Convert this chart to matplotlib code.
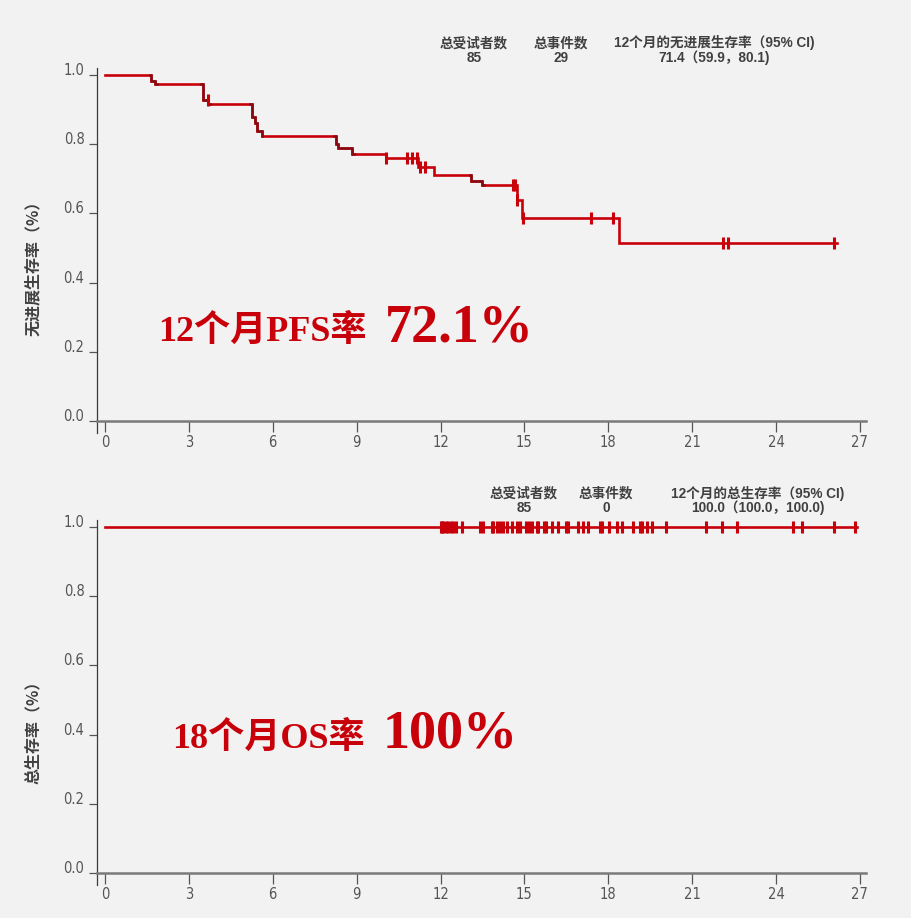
import matplotlib
matplotlib.use("Agg")
import matplotlib.pyplot as plt
import numpy as np

# PFS curve (step levels)
pfs_t = [0, 1.65, 1.8, 3.5, 3.7, 5.25, 5.35, 5.45, 5.6, 8.25, 8.35, 8.85,
         10.05, 11.2, 11.75, 13.1, 13.5, 14.72, 14.9, 18.38]
pfs_s = [1.0, 0.984, 0.974, 0.928, 0.916, 0.88, 0.861, 0.838, 0.824, 0.80,
         0.789, 0.772, 0.760, 0.734, 0.711, 0.694, 0.682, 0.639, 0.587, 0.514]
pfs_end = 26.17
pfs_cens = [3.68, 10.05, 10.8, 10.98, 11.15, 11.27, 11.45, 14.6, 14.68, 14.75,
            14.95, 17.38, 18.16, 22.1, 22.28, 26.07]
# stretches of the curve drawn darker in the picture
dark_ranges = [(1.6, 1.85), (3.45, 3.75), (5.2, 5.62), (8.2, 8.9), (13.05, 13.55)]

# OS curve: no events, censor marks only
os_end = 26.9
os_cens = [12.01, 12.05, 12.10, 12.18, 12.28, 12.36, 12.46, 12.54, 12.78, 13.41,
           13.53, 13.83, 13.89, 14.01, 14.13, 14.25, 14.39, 14.55, 14.75, 14.84,
           15.06, 15.18, 15.26, 15.44, 15.50, 15.71, 15.76, 15.98, 16.19, 16.48,
           16.57, 16.93, 17.11, 17.29, 17.70, 17.76, 18.03, 18.30, 18.48, 18.89,
           19.13, 19.20, 19.37, 19.55, 20.06, 21.49, 22.06, 22.59, 24.62, 24.92,
           26.08, 26.82]

xticks = [0, 3, 6, 9, 12, 15, 18, 21, 24, 27]
yticks = [0.0, 0.2, 0.4, 0.6, 0.8, 1.0]

top_head = ["总受试者数", "总事件数", "12个月的无进展生存率（95% CI)"]
top_vals = ["85", "29", "71.4（59.9，80.1)"]
bot_head = ["总受试者数", "总事件数", "12个月的总生存率（95% CI)"]
bot_vals = ["85", "0", "100.0（100.0，100.0)"]

RED = "#c8000a"
DARK = "#7a0c12"
BG = "#f2f2f2"
CJK = ["Noto Sans CJK SC", "DejaVu Sans"]
HEAD = ["Liberation Sans", "Noto Sans CJK SC"]
BIG = ["Liberation Serif", "Noto Sans CJK SC"]

W, H = 912, 918
fig = plt.figure(figsize=(W / 100, H / 100), dpi=100, facecolor=BG)


def fx(x):
    return x / W


def fy(y):
    return 1 - y / H


def survival(t, s, end):
    xs, ys = [], []
    for i in range(len(t)):
        xs.append(t[i])
        ys.append(s[i])
        nxt = t[i + 1] if i + 1 < len(t) else end
        xs.append(nxt)
        ys.append(s[i])
    return xs, ys


def level_at(t, s, x):
    idx = np.searchsorted(t, x, side="right") - 1
    return np.array(s)[idx]


def make_axes(top_px, bottom_px):
    ax = fig.add_axes([fx(97), fy(bottom_px), fx(866) - fx(97),
                       (bottom_px - top_px) / H])
    ax.set_facecolor(BG)
    ax.set_xlim((97 - 105) / 27.96, (866 - 105) / 27.96)
    ax.set_ylim(0, (bottom_px - top_px) / 346)
    ax.spines["top"].set_visible(False)
    ax.spines["right"].set_visible(False)
    ax.spines["left"].set_color("#3a3a3a")
    ax.spines["left"].set_linewidth(0.9)
    ax.spines["left"].set_bounds(-0.035, (bottom_px - top_px) / 346)
    ax.spines["bottom"].set_color("#7a7a7a")
    ax.spines["bottom"].set_linewidth(1.8)
    ax.set_xticks(xticks)
    ax.set_xticklabels([str(v) for v in xticks])
    ax.set_yticks(yticks)
    ax.set_yticklabels(["%.1f" % v for v in yticks])
    ax.tick_params(axis="x", length=8, width=0.9, color="#555555", pad=2,
                   labelsize=10.5, labelcolor="#555555")
    ax.tick_params(axis="y", length=6, width=0.9, color="#555555", pad=3,
                   labelsize=10.5, labelcolor="#555555")
    for lab in ax.get_xticklabels() + ax.get_yticklabels():
        lab.set_family("DejaVu Sans")
        lab.set_fontstretch("condensed")
    for lab in ax.get_yticklabels():
        lab.set_va("baseline")
    return ax


# top panel: PFS
ax1 = make_axes(68, 421)
xs, ys = survival(pfs_t, pfs_s, pfs_end)
ax1.plot(xs, ys, color=RED, lw=1.9, solid_joinstyle="miter")
for a, b in dark_ranges:
    sel = [(x, y) for x, y in zip(xs, ys) if a <= x <= b]
    if sel:
        dx = [a] + [p[0] for p in sel] + [b]
        dy = [level_at(pfs_t, pfs_s, a)] + [p[1] for p in sel] + [level_at(pfs_t, pfs_s, b)]
        ax1.plot(dx, dy, color=DARK, lw=1.9, alpha=0.8)
ax1.plot(pfs_cens, level_at(pfs_t, pfs_s, pfs_cens), ls="none", marker="|",
         ms=8, mew=2.2, color=RED)
ax1.set_ylabel("无进展生存率（%）", family=CJK, fontsize=11.5, color="#404040",
               fontweight="bold")

# bottom panel: OS
ax2 = make_axes(520, 873)
ax2.plot([0, os_end], [1.0, 1.0], color=RED, lw=1.9)
ax2.plot(os_cens, np.ones(len(os_cens)), ls="none", marker="|",
         ms=8, mew=2.2, color=RED)
ax2.set_ylabel("总生存率（%）", family=CJK, fontsize=11.5, color="#404040",
               fontweight="bold")

for ax in (ax1, ax2):
    ax.yaxis.set_label_coords(-(97 - 41) / (866 - 97), 0.5)
ax1.yaxis.label.set_y(1 - (264 - 68) / (421 - 68))
ax2.yaxis.label.set_y(1 - (728 - 520) / (873 - 520))

# header tables
top_cols = [474, 561, 714]
bot_cols = [524, 606, 758]
for heads, vals, cols, y0 in [(top_head, top_vals, top_cols, 43),
                              (bot_head, bot_vals, bot_cols, 493)]:
    for h, v, c in zip(heads, vals, cols):
        fig.text(fx(c), fy(y0), h, ha="center", va="center", family=HEAD,
                 fontsize=9.8, fontweight="bold", color="#404040")
        fig.text(fx(c), fy(y0 + 15), v, ha="center", va="center", family=HEAD,
                 fontsize=9.8, fontweight="bold", color="#404040")

# big annotations
fig.text(fx(158), fy(341), "12个月PFS率", ha="left", va="baseline", family=BIG,
         fontsize=26, fontweight="bold", color=RED)
fig.text(fx(385), fy(341), "72.1%", ha="left", va="baseline", family=BIG,
         fontsize=39, fontweight="bold", color=RED)
fig.text(fx(172), fy(748), "18个月OS率", ha="left", va="baseline", family=BIG,
         fontsize=26, fontweight="bold", color=RED)
fig.text(fx(383), fy(748), "100%", ha="left", va="baseline", family=BIG,
         fontsize=39, fontweight="bold", color=RED)

fig.savefig("out.png", dpi=100, facecolor=BG)
